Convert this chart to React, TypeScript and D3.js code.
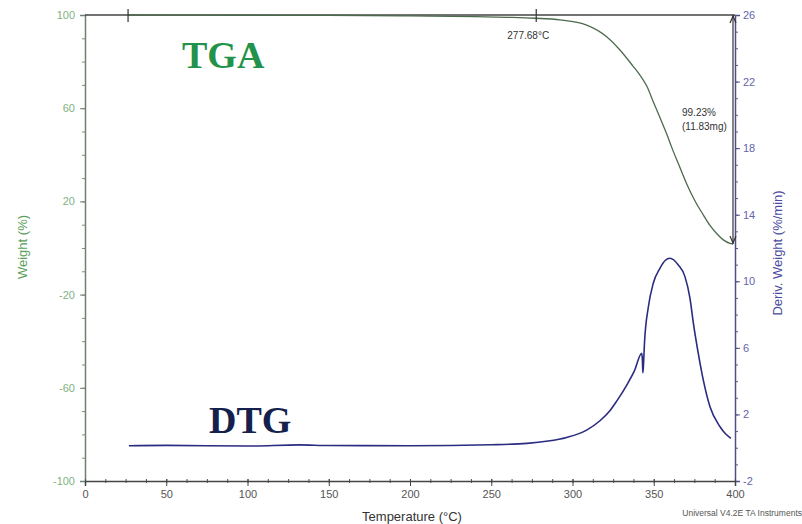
import { useEffect, useRef } from "react";
import * as d3 from "d3";

// TGA curve (weight %)
const tgaTemp = [26.5, 100, 150, 200, 240, 260, 276.9, 292.3, 308.7, 321.0, 329.2, 337.2, 341.5, 345.7, 349.5, 353.8, 358.0, 361.0, 365.5, 370.3, 375.4, 380.5, 384.6, 388.7, 392.6, 396.9, 398.8];
const tgaWeight = [100, 99.9, 99.8, 99.6, 99.3, 99.0, 98.6, 97.9, 95.7, 90.7, 85.0, 78.1, 74.2, 69.5, 63.1, 56.0, 48.9, 43.3, 35.6, 27.5, 20.2, 14.2, 9.7, 6.2, 3.6, 2.0, 1.7];

// DTG curve (deriv. weight %/min)
const dtgTemp = [27, 50, 100, 132, 150, 200, 250, 272, 285, 296.4, 308.7, 316.9, 323, 327.2, 333.3, 338, 342.6, 343.0, 343.3, 343.7, 344.3, 346.7, 349.7, 353.8, 357, 360, 365.1, 369.2, 372.3, 374.4, 377.4, 380.5, 384.6, 390.8, 394, 397.5];
const dtgDeriv = [0.12, 0.14, 0.1, 0.17, 0.13, 0.12, 0.18, 0.26, 0.4, 0.62, 1.06, 1.62, 2.22, 2.8, 3.75, 4.6, 5.67, 5.3, 4.5, 5.0, 6.3, 8.47, 9.88, 10.78, 11.25, 11.38, 10.98, 10.28, 8.98, 7.47, 5.67, 4.06, 2.46, 1.26, 0.85, 0.56];

const xMajor = [0, 50, 100, 150, 200, 250, 300, 350, 400];
const leftMajor = [100, 60, 20, -20, -60, -100];
const rightMajor = [26, 22, 18, 14, 10, 6, 2, -2];

const onsetTemp = 277.68;
const startTemp = 26.5;
const lossText = ["99.23%", "(11.83mg)"];

export default function App() {
    const svgRef = useRef<SVGSVGElement | null>(null);

    useEffect(() => {
        const width = 802;
        const height = 524;
        const left = 85, right = 735, top = 15, bottom = 481;
        const plain = (d: d3.NumberValue) => String(d); // hyphen minus, like the instrument software

        const x = d3.scaleLinear().domain([0, 400]).range([left, right]);
        const yW = d3.scaleLinear().domain([-100, 100]).range([bottom, top]);
        const yD = d3.scaleLinear().domain([-2, 26]).range([bottom, top]);

        const svg = d3.select(svgRef.current)
            .attr("width", width)
            .attr("height", height)
            .style("font-family", "'Liberation Sans', Arial, sans-serif");
        svg.selectAll("*").remove();

        svg.append("rect").attr("width", width).attr("height", height).attr("fill", "#fff");

        // left axis (weight)
        const gl = svg.append("g").attr("transform", `translate(${left},0)`);
        gl.call(d3.axisLeft(yW).tickValues(d3.range(-100, 101, 10)).tickSize(3).tickFormat(() => ""))
            .call(g => g.select(".domain").remove())
            .call(g => g.selectAll(".tick line").attr("stroke", "#7d917d"));
        gl.append("g")
            .call(d3.axisLeft(yW).tickValues(leftMajor).tickSize(5).tickPadding(5).tickFormat(plain))
            .call(g => g.select(".domain").attr("stroke", "#6f806f").attr("stroke-width", 1.5))
            .call(g => g.selectAll(".tick line").attr("stroke", "#6f806f"))
            .call(g => g.selectAll(".tick text").attr("fill", "#7fb27f").attr("font-size", 11).attr("font-family", "'Liberation Sans', Arial, sans-serif"));

        // right axis (deriv. weight)
        const gr = svg.append("g").attr("transform", `translate(${right},0)`);
        gr.call(d3.axisRight(yD).tickValues(d3.range(-2, 27, 1)).tickSize(3).tickFormat(() => ""))
            .call(g => g.select(".domain").remove())
            .call(g => g.selectAll(".tick line").attr("stroke", "#5a5a96"));
        gr.append("g")
            .call(d3.axisRight(yD).tickValues(rightMajor).tickSize(5).tickPadding(3).tickFormat(plain))
            .call(g => g.select(".domain").attr("stroke", "#4e4e8a").attr("stroke-width", 1.5))
            .call(g => g.selectAll(".tick line").attr("stroke", "#4e4e8a"))
            .call(g => g.selectAll(".tick text").attr("fill", "#6464ac").attr("font-size", 11).attr("font-family", "'Liberation Sans', Arial, sans-serif"));

        // bottom axis (temperature)
        const gb = svg.append("g").attr("transform", `translate(0,${bottom})`);
        gb.call(d3.axisBottom(x).tickValues(d3.range(0, 401, 12.5)).tickSize(2).tickFormat(() => ""))
            .call(g => g.select(".domain").remove())
            .call(g => g.selectAll(".tick line").attr("stroke", "#555").attr("y1", -2));
        gb.append("g")
            .call(d3.axisBottom(x).tickValues(xMajor).tickSize(5).tickPadding(4).tickFormat(plain))
            .call(g => g.select(".domain").attr("stroke", "#444").attr("stroke-width", 1.5))
            .call(g => g.selectAll(".tick line").attr("stroke", "#444").attr("y1", -2))
            .call(g => g.selectAll(".tick text").attr("fill", "#555").attr("font-size", 11).attr("font-family", "'Liberation Sans', Arial, sans-serif"));

        // top frame line
        svg.append("line")
            .attr("x1", left).attr("x2", right).attr("y1", top).attr("y2", top)
            .attr("stroke", "#444").attr("stroke-width", 1.5);

        // curves
        const tgaData = tgaTemp.map((t, i) => [t, tgaWeight[i]] as [number, number]);
        const dtgData = dtgTemp.map((t, i) => [t, dtgDeriv[i]] as [number, number]);

        const tgaLine = d3.line<[number, number]>()
            .x(d => x(d[0])).y(d => yW(d[1]))
            .curve(d3.curveMonotoneX);
        const dtgLine = d3.line<[number, number]>()
            .x(d => x(d[0])).y(d => yD(d[1]))
            .curve(d3.curveMonotoneX);

        svg.append("path")
            .attr("d", tgaLine(tgaData))
            .attr("fill", "none").attr("stroke", "#4c6a4c").attr("stroke-width", 1.3);
        svg.append("path")
            .attr("d", dtgLine(dtgData))
            .attr("fill", "none").attr("stroke", "#2b2b82").attr("stroke-width", 1.6)
            .attr("stroke-linejoin", "round");

        // markers on the top line
        [startTemp, onsetTemp].forEach(t => {
            svg.append("line")
                .attr("x1", x(t)).attr("x2", x(t)).attr("y1", top - 6).attr("y2", top + 7)
                .attr("stroke", "#333").attr("stroke-width", 1.2);
        });
        svg.append("text")
            .attr("x", x(onsetTemp) - 8).attr("y", top + 24)
            .attr("text-anchor", "middle").attr("font-size", 10).attr("fill", "#333")
            .text(`${onsetTemp}°C`);

        // weight-loss step arrow
        const ax = right - 2;
        const yEnd = yW(tgaWeight[tgaWeight.length - 1]);
        svg.append("line")
            .attr("x1", ax).attr("x2", ax).attr("y1", top).attr("y2", yEnd)
            .attr("stroke", "#333").attr("stroke-width", 1.2);
        svg.append("path")
            .attr("d", `M${ax - 3},${top + 8}L${ax},${top + 1}L${ax + 3},${top + 8}M${ax - 3},${yEnd - 8}L${ax},${yEnd - 1}L${ax + 3},${yEnd - 8}`)
            .attr("fill", "none").attr("stroke", "#333").attr("stroke-width", 1.2);
        lossText.forEach((s, i) => {
            svg.append("text")
                .attr("x", 682).attr("y", 116 + i * 14)
                .attr("font-size", 10).attr("fill", "#333")
                .text(s);
        });

        // big labels
        svg.append("text")
            .attr("x", 182).attr("y", 68)
            .attr("font-family", "'Liberation Serif', 'Times New Roman', serif")
            .attr("font-weight", "bold").attr("font-size", 38).attr("fill", "#23924a")
            .text("TGA");
        svg.append("text")
            .attr("x", 209).attr("y", 433)
            .attr("font-family", "'Liberation Serif', 'Times New Roman', serif")
            .attr("font-weight", "bold").attr("font-size", 38).attr("fill", "#14214d")
            .text("DTG");

        // axis titles
        svg.append("text")
            .attr("transform", `translate(27,247) rotate(-90)`)
            .attr("text-anchor", "middle").attr("font-size", 13).attr("fill", "#5aa05a")
            .text("Weight (%)");
        svg.append("text")
            .attr("transform", `translate(782,253) rotate(-90)`)
            .attr("text-anchor", "middle").attr("font-size", 13).attr("fill", "#4a4aa0")
            .text("Deriv. Weight (%/min)");
        svg.append("text")
            .attr("x", 412).attr("y", 521)
            .attr("text-anchor", "middle").attr("font-size", 13).attr("fill", "#333")
            .text("Temperature (°C)");
        svg.append("text")
            .attr("x", 802).attr("y", 516)
            .attr("text-anchor", "end").attr("font-size", 8.5).attr("fill", "#555")
            .text("Universal V4.2E TA Instruments");
    }, []);

    return (
        <svg ref={svgRef} style={{ position: "absolute", left: 0, top: 0, display: "block" }} />
    );
}
